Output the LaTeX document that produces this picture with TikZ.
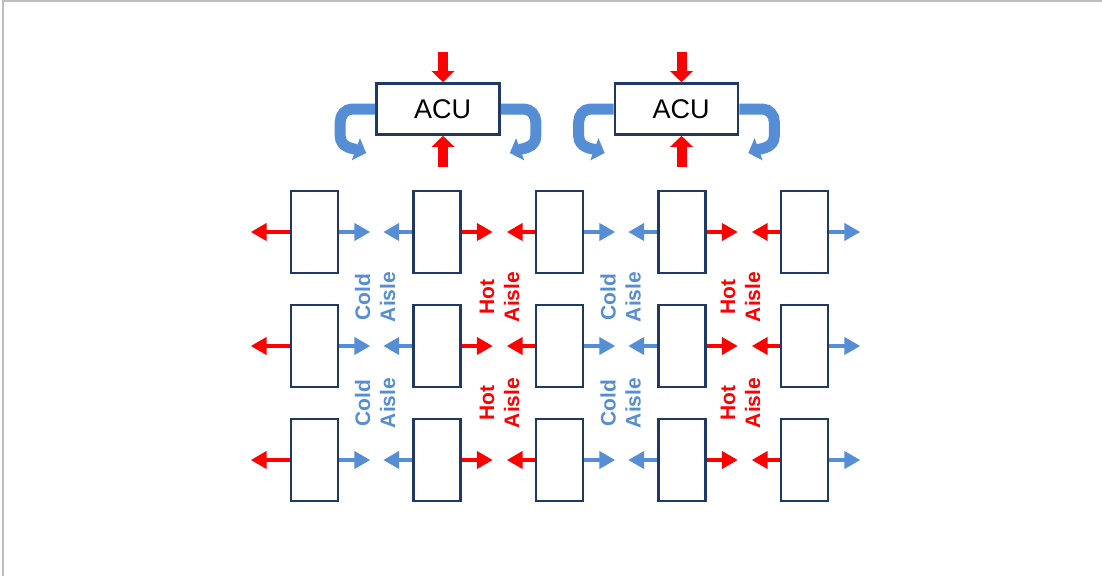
\documentclass[tikz,border=0pt]{standalone}
\usepackage{fontspec}
\setmainfont{Liberation Sans}
\usetikzlibrary{arrows.meta,calc}
\definecolor{coolblue}{RGB}{85,142,213}
\definecolor{racknavy}{RGB}{31,56,100}
\definecolor{framegray}{RGB}{190,190,190}
\begin{document}
\begin{tikzpicture}
	[x=1pt, y=-1pt,
	rack/.style = {draw=racknavy, line width=2.6pt, fill=white, minimum width=47pt, minimum height=82pt, inner sep=0pt},
	acu/.style = {draw=racknavy, line width=2.6pt, fill=white, minimum width=123pt, minimum height=51pt, inner sep=0pt, font=\fontsize{27}{30}\selectfont},
	flow/.style = {line width=4.5pt, -{Triangle[length=16pt, width=17pt]}},
	hot/.style = {flow, red},
	cold/.style = {flow, coolblue},
	supply/.style = {line width=11pt, coolblue, -{Triangle[length=11pt, width=23pt]}},
	intake/.style = {line width=10pt, red, -{Triangle[length=11pt, width=22pt]}},
	aisle/.style = {rotate=90, align=center, inner sep=0pt, font=\fontsize{21}{25}\selectfont\bfseries},
	coldtext/.style = {aisle, text=coolblue},
	hottext/.style = {aisle, text=red}]
	\useasboundingbox (0,0) rectangle (1102,576);
	\draw[framegray, line width=2pt] (3,576) -- (3,1) -- (1102,1);
	% racks
	\foreach \y [count=\ri] in {232,346,460}
		\foreach \x [count=\ci] in {314.5,437,559.5,682,804.5}
			\node[rack] (r\ri\ci) at (\x,\y) {};
	% rack airflow
	\foreach \ri in {1,2,3}
		\foreach \ci/\lt/\rt/\ll in {1/hot/cold/39, 2/cold/hot/29, 3/hot/cold/28, 4/cold/hot/29, 5/hot/cold/28}{
			\draw[\lt] (r\ri\ci.west) -- ++(-\ll,0);
			\draw[\rt] (r\ri\ci.east) -- ++(31,0);
		}
	% aisle labels
	\foreach \x/\kind/\txt [count=\ai] in {375/coldtext/Cold, 499.5/hottext/Hot, 620.5/coldtext/Cold, 740.5/hottext/Hot}
		\foreach \y [count=\k] in {297,403}
			\node[\kind] (aisle\ai\k) at (\x,\y) {\txt\\Aisle};
	% cooling units
	\foreach \x [count=\u] in {438,676.5}{
		\node[acu] (acu\u) at (\x,109) {\hspace*{9pt}ACU};
		\draw[intake] ($(acu\u.north)+(5,-30)$) -- ($(acu\u.north)+(5,0)$);
		\draw[intake] ($(acu\u.south)+(5,31)$) -- ($(acu\u.south)+(5,0)$);
		\draw[supply] (acu\u.west) -- ++(-23,0) to[out=180, in=90] ++(-12,13) -- ++(0,14) to[out=-90, in=160] ++(26,17);
		\draw[supply] (acu\u.east) -- ++(23,0) to[out=0, in=90] ++(12,13) -- ++(0,14) to[out=-90, in=20] ++(-26,17);
	}
\end{tikzpicture}
\end{document}
